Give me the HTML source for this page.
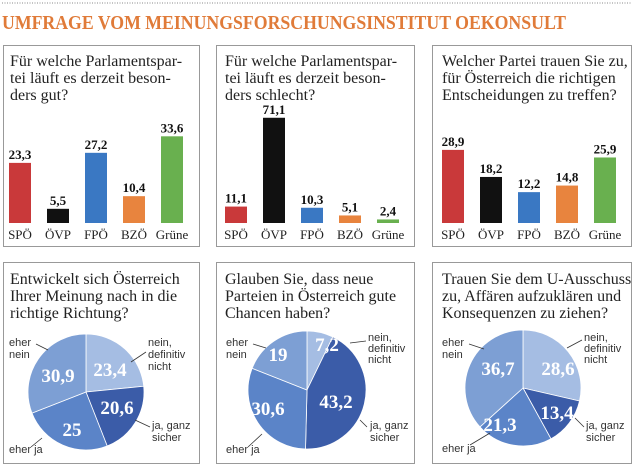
<!DOCTYPE html>
<html><head><meta charset="utf-8"><style>
html,body{margin:0;padding:0;background:#fff}
svg{display:block}
.q{font-family:"Liberation Serif",serif;font-size:16px;fill:#222}
.v{font-family:"Liberation Serif",serif;font-size:13px;font-weight:bold;fill:#111}
.p{font-family:"Liberation Serif",serif;font-size:13px;fill:#222}
.w{font-family:"Liberation Serif",serif;font-size:19px;font-weight:bold;fill:#fff}
.l{font-family:"Liberation Sans",sans-serif;font-size:11px;fill:#333}
</style></head><body>
<svg id="s" width="640" height="474" viewBox="0 0 640 474" xmlns="http://www.w3.org/2000/svg">
<line x1="2" y1="3" x2="632" y2="3" stroke="#888" stroke-width="1" stroke-dasharray="1,1.5"/>
<text x="2" y="29" textLength="564" lengthAdjust="spacingAndGlyphs" style="font-family:'Liberation Serif',serif;font-size:20px;font-weight:bold;fill:#e07b39">UMFRAGE VOM MEINUNGSFORSCHUNGSINSTITUT OEKONSULT</text>
<g fill="none" stroke="#999" stroke-width="1">
<rect x="3.5" y="45.5" width="196" height="201"/>
<rect x="216.5" y="45.5" width="198" height="201"/>
<rect x="432.5" y="45.5" width="199" height="201"/>
<rect x="3.5" y="262.5" width="196" height="201"/>
<rect x="216.5" y="262.5" width="198" height="201"/>
<rect x="432.5" y="262.5" width="199" height="201"/>
</g>
<g class="q">
<text x="10" y="66">Für welche Parlamentspar-</text><text x="10" y="83">tei läuft es derzeit beson-</text><text x="10" y="100">ders gut?</text>
<text x="225" y="66">Für welche Parlamentspar-</text><text x="225" y="83">tei läuft es derzeit beson-</text><text x="225" y="100">ders schlecht?</text>
<text x="442" y="66">Welcher Partei trauen Sie zu,</text><text x="442" y="83">für Österreich die richtigen</text><text x="442" y="100">Entscheidungen zu treffen?</text>
<text x="10" y="284">Entwickelt sich Österreich</text><text x="10" y="301">Ihrer Meinung nach in die</text><text x="10" y="318">richtige Richtung?</text>
<text x="225" y="284">Glauben Sie, dass neue</text><text x="225" y="301">Parteien in Österreich gute</text><text x="225" y="318">Chancen haben?</text>
<text x="442" y="284">Trauen Sie dem U-Ausschuss</text><text x="442" y="301">zu, Affären aufzuklären und</text><text x="442" y="318">Konsequenzen zu ziehen?</text>
</g>
<g id="bars"></g>
<g id="pies"></g>
<g class="l">
<text x="9" y="346">eher</text><text x="9" y="358">nein</text>
<text x="148" y="346">nein,</text><text x="148" y="358">definitiv</text><text x="148" y="370">nicht</text>
<text x="152" y="429">ja, ganz</text><text x="152" y="441">sicher</text>
<text x="9" y="453">eher ja</text>
<text x="226" y="346">eher</text><text x="226" y="358">nein</text>
<text x="368" y="341">nein,</text><text x="368" y="352">definitiv</text><text x="368" y="363">nicht</text>
<text x="370" y="429">ja, ganz</text><text x="370" y="441">sicher</text>
<text x="226" y="453">eher ja</text>
<text x="442" y="346">eher</text><text x="442" y="358">nein</text>
<text x="584" y="341">nein,</text><text x="584" y="352">definitiv</text><text x="584" y="363">nicht</text>
<text x="586" y="429">ja, ganz</text><text x="586" y="441">sicher</text>
<text x="442" y="452">eher ja</text>
</g>
<g stroke="#333" stroke-width="0.8">
<line x1="36" y1="344" x2="48" y2="350"/><line x1="146" y1="352" x2="131" y2="362"/>
<line x1="150" y1="427" x2="135" y2="420"/><line x1="31" y1="447" x2="42" y2="438"/>
<line x1="253" y1="344" x2="266" y2="348"/><line x1="366" y1="341" x2="350" y2="343"/>
<line x1="367" y1="427" x2="360" y2="420"/><line x1="248" y1="447" x2="262" y2="434"/>
<line x1="469" y1="344" x2="484" y2="349"/><line x1="582" y1="340" x2="567" y2="348"/>
<line x1="584" y1="427" x2="575" y2="418"/><line x1="470" y1="445" x2="490" y2="433"/>
</g>
<g class="w" text-anchor="middle">
<text x="58" y="382">30,9</text><text x="110" y="376">23,4</text><text x="117" y="414">20,6</text><text x="72" y="436">25</text>
<text x="278" y="361">19</text><text x="327" y="351">7,2</text><text x="336" y="408">43,2</text><text x="268" y="415">30,6</text>
<text x="498" y="375">36,7</text><text x="558" y="375">28,6</text><text x="500" y="431">21,3</text><text x="557" y="419">13,4</text>
</g>
</svg>
<script>
var NS="http://www.w3.org/2000/svg";
function el(p,t,a,txt){var e=document.createElementNS(NS,t);for(var k in a)e.setAttribute(k,a[k]);if(txt)e.textContent=txt;p.appendChild(e);return e;}
var cols=["#c9393a","#111","#3a78c3","#e8843e","#69b04f"],names=["SPÖ","ÖVP","FPÖ","BZÖ","Grüne"];
var B=document.getElementById("bars");
[[9,2.58,[23.3,5.5,27.2,10.4,33.6]],[225,1.48,[11.1,71.1,10.3,5.1,2.4]],[442,2.53,[28.9,18.2,12.2,14.8,25.9]]].forEach(function(c){
 c[2].forEach(function(v,i){var x=c[0]+i*38,h=v*c[1],y=223-h;
  el(B,"rect",{x:x,y:y,width:22,height:h,fill:cols[i]});
  el(B,"text",{x:x+11,y:y-4,"text-anchor":"middle","class":"v"},String(v).replace(".",","));
  el(B,"text",{x:x+11,y:239,"text-anchor":"middle","class":"p"},names[i]);});});
var P=document.getElementById("pies"),pc=["#a5bde3","#3b5ca8","#5b84c8","#7d9fd4"];
[[86,392,58,[23.4,20.6,25,30.9]],[307,390,59,[7.2,43.2,30.6,19]],[523,388,58,[28.6,13.4,21.3,36.7]]].forEach(function(c){
 var tot=c[3].reduce(function(a,b){return a+b},0),a=0;
 c[3].forEach(function(v,i){var a0=a/tot*2*Math.PI;a+=v;var a1=a/tot*2*Math.PI;
  var x0=c[0]+c[2]*Math.sin(a0),y0=c[1]-c[2]*Math.cos(a0),x1=c[0]+c[2]*Math.sin(a1),y1=c[1]-c[2]*Math.cos(a1);
  el(P,"path",{d:"M"+c[0]+","+c[1]+"L"+x0+","+y0+"A"+c[2]+","+c[2]+" 0 "+((a1-a0)>Math.PI?1:0)+" 1 "+x1+","+y1+"Z",fill:pc[i],stroke:"#fff","stroke-width":"0.8"});});});
</script>
</body></html>
